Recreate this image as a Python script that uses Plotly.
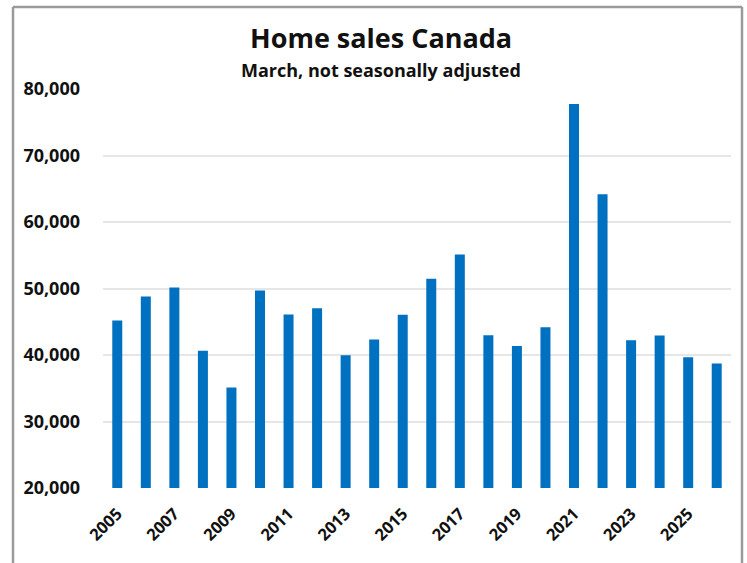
import plotly.graph_objects as go

# March home sales in Canada, not seasonally adjusted
years = list(range(2005, 2027))
sales = [45200, 48800, 50150, 40640, 35100, 49700, 46090, 47030, 39950, 42330, 46040,
         51460, 55100, 42970, 41340, 44160, 77760, 64190, 42230, 42920, 39650, 38740]
tick_years = list(range(2005, 2027, 2))
y_ticks = [20000, 30000, 40000, 50000, 60000, 70000, 80000]

W, H = 747, 563
ML, MR, MT, MB = 103, 16, 89, 75
PW, PH = W - ML - MR, H - MT - MB


def px_x(x):
    return (x - ML) / PW


def px_y(y):
    return (H - MB - y) / PH


fig = go.Figure(go.Bar(
    x=years, y=sales,
    marker=dict(color="#0070C0", line=dict(width=0)),
    hoverinfo="x+y",
))

font_family = "'Open Sans', Lato, sans-serif"

fig.update_layout(
    width=W, height=H,
    margin=dict(l=ML, r=MR, t=MT, b=MB),
    paper_bgcolor="white", plot_bgcolor="white",
    bargap=0.65,
    showlegend=False,
    font=dict(family=font_family, color="#111111"),
    xaxis=dict(
        range=[2004.5, 2026.5],
        tickmode="array", tickvals=tick_years,
        ticktext=[f"<b>{y}</b>" for y in tick_years],
        tickangle=-45, tickfont=dict(size=16.5, color="#111111"),
        showgrid=False, zeroline=False, showline=False, ticks="",
        ticklabelstandoff=12,
    ),
    yaxis=dict(
        range=[20000, 80000],
        tickmode="array", tickvals=y_ticks,
        ticktext=[f"<b>{v:,}</b>" for v in y_ticks],
        tickfont=dict(size=18, color="#111111"),
        showgrid=True, gridcolor="#e6e6e6", gridwidth=1.5,
        zeroline=False, showline=False, ticks="",
        ticklabelstandoff=22,
    ),
    annotations=[
        dict(text="<b>Home sales Canada</b>", x=px_x(381), y=px_y(38),
             xref="paper", yref="paper", showarrow=False,
             font=dict(size=27, color="#111111", family=font_family),
             xanchor="center", yanchor="middle"),
        dict(text="<b>March, not seasonally adjusted</b>", x=px_x(381), y=px_y(70),
             xref="paper", yref="paper", showarrow=False,
             font=dict(size=18, color="#111111", family=font_family),
             xanchor="center", yanchor="middle"),
    ],
    shapes=[
        dict(type="line", xref="paper", yref="paper",
             x0=px_x(13), x1=px_x(742), y0=px_y(7), y1=px_y(7),
             line=dict(color="#9a9a9a", width=2.5)),
        dict(type="line", xref="paper", yref="paper",
             x0=px_x(13), x1=px_x(13), y0=px_y(7), y1=px_y(570),
             line=dict(color="#9a9a9a", width=2.5)),
        dict(type="line", xref="paper", yref="paper",
             x0=px_x(742), x1=px_x(742), y0=px_y(7), y1=px_y(570),
             line=dict(color="#9a9a9a", width=2.5)),
    ],
)

fig.write_html("out.html")
